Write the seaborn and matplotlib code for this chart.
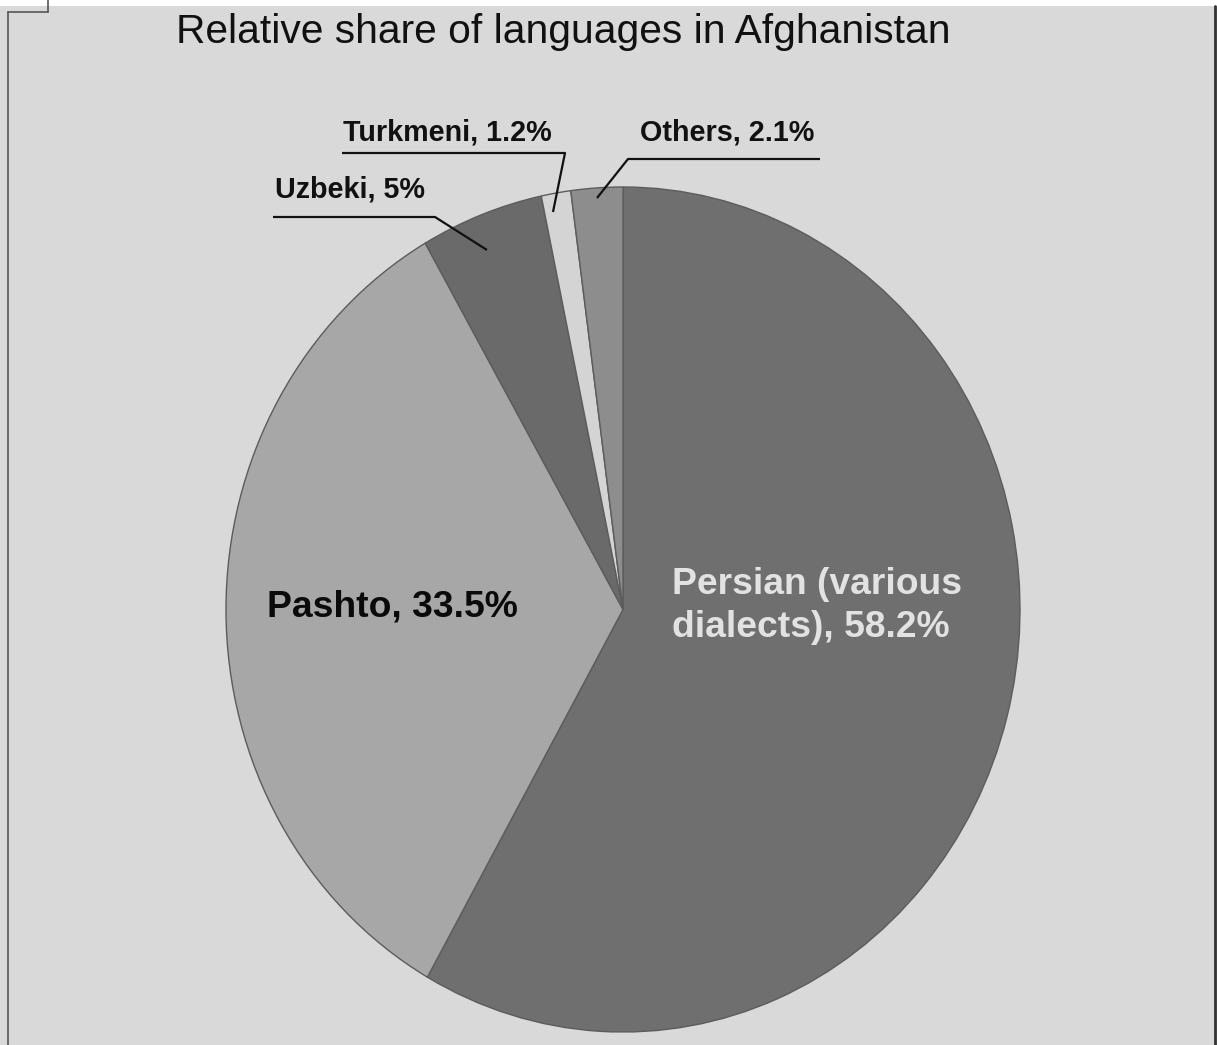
import matplotlib
matplotlib.use("Agg")
import matplotlib.pyplot as plt
import seaborn as sns
from matplotlib.lines import Line2D
from matplotlib.patches import Rectangle

# ---- data ----
languages = ["Persian (various dialects)", "Pashto", "Uzbeki", "Turkmeni", "Others"]
shares = [58.2, 33.5, 5.0, 1.2, 2.1]
label_texts = ["Persian (various\ndialects), 58.2%", "Pashto, 33.5%", "Uzbeki, 5%",
               "Turkmeni, 1.2%", "Others, 2.1%"]
slice_colors = ["#6f6f6f", "#a7a7a7", "#6a6a6a", "#d4d4d4", "#8d8d8d"]
title = "Relative share of languages in Afghanistan"

sns.set_theme(style="white")
plt.rcParams["font.family"] = ["Liberation Sans", "DejaVu Sans"]

W, H = 1217, 1045
BG = "#d9d9d9"
fig = plt.figure(figsize=(W / 100, H / 100), dpi=100, facecolor=BG)
ax = fig.add_axes([0, 0, 1, 1])
ax.set_facecolor(BG)

# pie geometry in pixels (ellipse)
cx, cy, rx, ry = 623.0, 609.5, 397.0, 422.5


def P(x, y):
    """pixel -> data coords"""
    return (x - cx) / rx, (cy - y) / ry


ax.pie(shares, colors=slice_colors, startangle=90, counterclock=False,
       radius=1.0, center=(0, 0),
       wedgeprops=dict(edgecolor="#5c5c5c", linewidth=1.0))
ax.set_aspect("auto")
ax.set_xlim((0 - cx) / rx, (W - cx) / rx)
ax.set_ylim((cy - H) / ry, (cy - 0) / ry)
ax.axis("off")

# title
fig.text(563 / W, 1 - 32 / H, title, ha="center", va="center",
         fontsize=29.3, color="#111111")

# big labels
ax.text(*P(267, 607), label_texts[1], ha="left", va="center",
        fontsize=26.8, fontweight="bold", color="#0a0a0a")
ax.text(*P(672, 606), label_texts[0], ha="left", va="center",
        fontsize=26.8, fontweight="bold", color="#e2e2e2", linespacing=1.27)

# small labels with leader lines
small = [
    (label_texts[2], (275, 190), [(273, 217), (435, 217), (487, 250)]),
    (label_texts[3], (343, 133), [(342, 153), (565, 153), (553, 212)]),
    (label_texts[4], (640, 133), [(820, 159), (628, 159), (597, 198)]),
]
for txt, (tx, ty), pts in small:
    ax.text(*P(tx, ty), txt, ha="left", va="center", fontsize=20.7,
            fontweight="bold", color="#111111")
    xs, ys = zip(*[P(a, b) for a, b in pts])
    ax.plot(xs, ys, color="#111111", linewidth=1.6, solid_capstyle="butt")

# frame decorations
fig.patches.append(Rectangle((0, 1 - 6 / H), 1, 6 / H, transform=fig.transFigure,
                             facecolor="white", edgecolor="none", zorder=0.5))
fig.lines.append(Line2D([8 / W, 8 / W], [0, 1 - 12 / H], transform=fig.transFigure,
                        color="#555555", linewidth=1.2))
fig.lines.append(Line2D([8 / W, 48 / W], [1 - 12 / H, 1 - 12 / H], transform=fig.transFigure,
                        color="#555555", linewidth=1.2))
fig.lines.append(Line2D([48 / W, 48 / W], [1 - 12 / H, 1], transform=fig.transFigure,
                        color="#555555", linewidth=1.2))
fig.lines.append(Line2D([1214.5 / W, 1214.5 / W], [0, 1 - 6 / H], transform=fig.transFigure,
                        color="#333333", linewidth=2))

fig.savefig("out.png", dpi=100, facecolor=BG)
